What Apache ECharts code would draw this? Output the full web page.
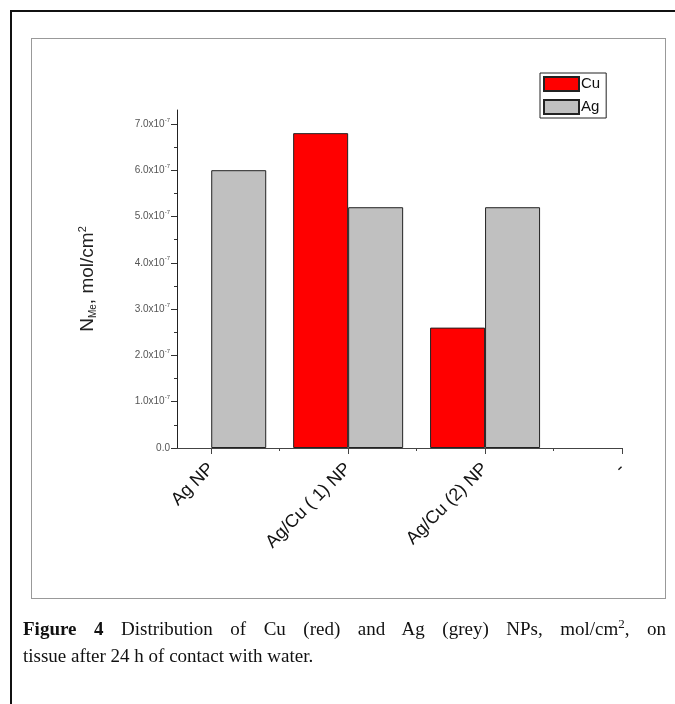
<!DOCTYPE html>
<html>
<head>
<meta charset="utf-8">
<script src="https://cdn.jsdelivr.net/npm/echarts@6/dist/echarts.min.js"></script>
<style>
  html, body { margin: 0; padding: 0; background: #fff; overflow: hidden; }
  .page { position: relative; width: 675px; height: 704px; }
  .outer { position: absolute; left: 10px; top: 10px; width: 700px; height: 720px; border: 2px solid #111; }
  .inner { position: absolute; left: 31px; top: 38px; width: 633px; height: 559px; border: 1px solid #999; }
  #chart { position: absolute; left: 0; top: 0; width: 675px; height: 704px; }
  .caption {
    position: absolute; left: 23px; top: 615px; width: 643px;
    font-family: "Liberation Serif", "Times New Roman", serif; font-size: 19px; line-height: 27px; color: #111;
  }
  .caption .l1 { display: block; text-align: justify; text-align-last: justify; white-space: nowrap; }
  .caption .l2 { display: block; }
  .caption sup { font-size: 13px; line-height: 0; }
</style>
</head>
<body>
<div class="page">
  <div class="outer"></div>
  <div class="inner"></div>
  <div id="chart"></div>
  <div class="caption">
    <span class="l1"><b>Figure 4</b> Distribution of Cu (red) and Ag (grey) NPs, mol/cm<sup>2</sup>, on</span>
    <span class="l2">tissue after 24 h of contact with water.</span>
  </div>
</div>
<script>
// categories sit at x = 1..4 on a value axis
const categories = ['Ag NP', 'Ag/Cu ( 1) NP', 'Ag/Cu (2) NP', '-'];
const catPositions = [1, 2, 3, 4];
const cuValues = [null, 6.8e-7, 2.6e-7, null];
const agValues = [6.0e-7, 5.2e-7, 5.2e-7, null];
const yMajorTicks = [0, 1e-7, 2e-7, 3e-7, 4e-7, 5e-7, 6e-7, 7e-7];
const yMinorTicks = [0.5e-7, 1.5e-7, 2.5e-7, 3.5e-7, 4.5e-7, 5.5e-7, 6.5e-7];
const xMinorTicks = [1.5, 2.5, 3.5];

const chart = echarts.init(document.getElementById('chart'));

function pairs(values) {
  const out = [];
  values.forEach((v, i) => {
    if (v !== null) out.push([catPositions[i], v]);
  });
  return out;
}

const axisColor = '#333';
const yMax = 7.3e-7;

const option = {
  animation: false,
  textStyle: { fontFamily: 'Liberation Sans, Arial, sans-serif' },
  grid: { left: 177, right: 53, top: 110, bottom: 256 },
  legend: {
    orient: 'vertical',
    left: 540,
    top: 73,
    padding: [3, 6, 3, 3],
    borderColor: '#222',
    borderWidth: 1,
    icon: 'rect',
    itemWidth: 35,
    itemHeight: 14,
    itemGap: 7,
    textStyle: { fontSize: 15, color: '#111', padding: [0, 0, 0, -3] },
    data: ['Cu', 'Ag']
  },
  xAxis: [
    {
      type: 'value',
      min: 0.75,
      max: 4,
      splitLine: { show: false },
      axisLine: { lineStyle: { color: '#444', width: 1 } },
      axisTick: { customValues: catPositions, length: 6, lineStyle: { color: '#444' } },
      axisLabel: {
        customValues: catPositions,
        rotate: 45,
        margin: 18,
        fontSize: 18,
        color: '#111',
        formatter: (v) => categories[catPositions.indexOf(v)] || ''
      }
    },
    {
      type: 'value',
      position: 'bottom',
      offset: 0,
      min: 0.75,
      max: 4,
      splitLine: { show: false },
      axisLine: { show: false },
      axisTick: { customValues: xMinorTicks, length: 3, lineStyle: { color: '#444' } },
      axisLabel: { show: false }
    }
  ],
  yAxis: [
    {
      type: 'value',
      min: 0,
      max: yMax,
      splitLine: { show: false },
      axisLine: { show: true, lineStyle: { color: '#222', width: 1 } },
      axisTick: { customValues: yMajorTicks, length: 6, lineStyle: { color: axisColor } },
      axisLabel: {
        customValues: yMajorTicks,
        margin: 7,
        color: '#555',
        fontSize: 10,
        formatter: (v) => (v === 0 ? '0.0' : (v * 1e7).toFixed(1) + 'x10{s|-7}'),
        rich: {
          s: { fontSize: 6, padding: [0, 0, 8, 0], color: '#555' }
        }
      },
      name: 'N{sub|Me}, mol/cm{sup|2}',
      nameLocation: 'middle',
      nameRotate: 90,
      nameGap: 78,
      nameTextStyle: {
        fontSize: 19,
        color: '#222',
        rich: {
          sub: { fontSize: 10, padding: [10, 0, 0, 0], color: '#222' },
          sup: { fontSize: 11, padding: [0, 0, 11, 0], color: '#222' }
        }
      }
    },
    {
      type: 'value',
      position: 'left',
      offset: 0,
      min: 0,
      max: yMax,
      splitLine: { show: false },
      axisLine: { show: false },
      axisTick: { customValues: yMinorTicks, length: 3, lineStyle: { color: axisColor } },
      axisLabel: { show: false }
    }
  ],
  series: [
    {
      name: 'Cu',
      type: 'bar',
      barWidth: 55,
      barGap: '0%',
      itemStyle: { color: '#ff0000', borderColor: '#222', borderWidth: 1 },
      data: pairs(cuValues)
    },
    {
      name: 'Ag',
      type: 'bar',
      barWidth: 55,
      barGap: '0%',
      itemStyle: { color: '#c0c0c0', borderColor: '#222', borderWidth: 1 },
      data: pairs(agValues)
    }
  ]
};

chart.setOption(option);
</script>
</body>
</html>
